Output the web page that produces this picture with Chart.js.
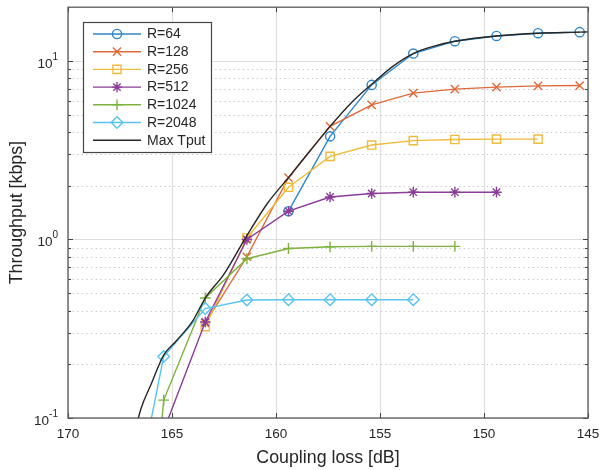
<!DOCTYPE html>
<html>
<head>
<meta charset="utf-8">
<script src="https://cdn.jsdelivr.net/npm/chart.js@4/dist/chart.umd.min.js"></script>
<style>
  html, body { margin: 0; padding: 0; background: #ffffff; }
  canvas { display: block; }
</style>
</head>
<body>
<canvas id="c" width="603" height="470"></canvas>
<script>
// Coupling loss sample points (dB) of the simulated repetition levels
const lossR = [167.4, 165.4, 163.4, 161.4, 159.4, 157.4, 155.4, 153.4, 151.4, 149.4, 147.4, 145.4];

// Throughput (kbps) per repetition level, null where no value was obtained
const tputR64   = [null, null, null, null, 1.44, 3.78, 7.34, 11.0, 12.9, 13.8, 14.3, 14.5];
const tputR128  = [null, null, 0.34, 0.80, 2.22, 4.30, 5.68, 6.60, 6.95, 7.13, 7.25, 7.28];
const tputR256  = [null, null, 0.325, 1.02, 1.96, 2.92, 3.38, 3.58, 3.63, 3.65, 3.65, null];
const tputR512  = [null, 0.085, 0.345, 1.00, 1.44, 1.73, 1.81, 1.84, 1.84, 1.84, null, null];
const tputR1024 = [0.0003, 0.126, 0.47, 0.78, 0.89, 0.91, 0.915, 0.915, 0.915, null, null, null];
const tputR2048 = [0.015, 0.221, 0.41, 0.458, 0.46, 0.46, 0.46, 0.46, null, null, null, null];

// Envelope of the best achievable throughput
const lossMax = [167.0, 166.5, 166.0, 165.4, 164.8, 164.0, 163.4, 162.5, 161.4, 160.4, 159.4, 158.4, 157.4, 156.4, 155.4, 154.4, 153.4, 152.4, 151.4, 149.4, 147.4, 145.4, 145.0];
const tputMax = [0.065, 0.112, 0.155, 0.225, 0.27, 0.35, 0.47, 0.64, 1.05, 1.6, 2.22, 3.1, 4.3, 5.8, 7.4, 9.3, 11.0, 12.1, 12.9, 13.8, 14.3, 14.5, 14.55];

// Axis ticks
const xTicks = [170, 165, 160, 155, 150, 145];
const xTickLabels = ['170', '165', '160', '155', '150', '145'];
const yDecades = [0.1, 1, 10];
const yDecadeExp = ['-1', '0', '1'];
const yMinor = [0.2, 0.3, 0.4, 0.5, 0.6, 0.7, 0.8, 0.9, 2, 3, 4, 5, 6, 7, 8, 9];

const seriesNames = ['R=64', 'R=128', 'R=256', 'R=512', 'R=1024', 'R=2048', 'Max Tput'];

const FONT = '"Liberation Sans", Arial, Helvetica, sans-serif';

function pts(xs, ys) {
  const out = [];
  xs.forEach((x, i) => { if (ys[i] !== null) out.push({ x: x, y: ys[i] }); });
  return out;
}

function series(label, ys, color, style, radius, order) {
  return {
    label: label,
    data: pts(lossR, ys),
    borderColor: color,
    backgroundColor: 'rgba(0,0,0,0)',
    borderWidth: 1.4,
    pointStyle: style,
    pointRadius: ctx => (ctx.raw && ctx.raw.y < 0.1 ? 0 : radius),
    pointBorderColor: color,
    pointBackgroundColor: 'rgba(0,0,0,0)',
    pointBorderWidth: 1.4,
    tension: 0,
    order: order
  };
}

const datasets = [
  series(seriesNames[0], tputR64,   '#2f86c8', 'circle',   4.6, 6),
  series(seriesNames[1], tputR128,  '#de6a3a', 'crossRot', 5.8, 5),
  series(seriesNames[2], tputR256,  '#efbb3c', 'rect',     5.8, 4),
  series(seriesNames[3], tputR512,  '#8a3c98', 'star',     5.2, 3),
  series(seriesNames[4], tputR1024, '#7fb23e', 'cross',    5.4, 2),
  series(seriesNames[5], tputR2048, '#58c3ef', 'rectRot',  5.8, 1),
  {
    label: seriesNames[6],
    data: pts(lossMax, tputMax),
    borderColor: '#262626',
    backgroundColor: 'rgba(0,0,0,0)',
    borderWidth: 1.4,
    pointRadius: 0,
    cubicInterpolationMode: 'monotone',
    order: 0
  }
];

// Grid, box, ticks and axis text in the MATLAB style
const axisDecor = {
  id: 'axisDecor',
  beforeDatasetsDraw(chart) {
    const { ctx, chartArea: a, scales: { x, y } } = chart;
    ctx.save();
    ctx.lineWidth = 1;
    ctx.strokeStyle = '#c4c4c4';
    ctx.setLineDash([1.3, 3.3]);
    yMinor.forEach(v => {
      const py = Math.round(y.getPixelForValue(v)) + 0.5;
      ctx.beginPath(); ctx.moveTo(a.left, py); ctx.lineTo(a.right, py); ctx.stroke();
    });
    ctx.setLineDash([]);
    ctx.strokeStyle = '#dedede';
    ctx.lineWidth = 1.2;
    yDecades.forEach(v => {
      const py = Math.round(y.getPixelForValue(v)) + 0.5;
      ctx.beginPath(); ctx.moveTo(a.left, py); ctx.lineTo(a.right, py); ctx.stroke();
    });
    xTicks.forEach(v => {
      const px = Math.round(x.getPixelForValue(v)) + 0.5;
      ctx.beginPath(); ctx.moveTo(px, a.top); ctx.lineTo(px, a.bottom); ctx.stroke();
    });
    ctx.restore();
  },
  afterDatasetsDraw(chart) {
    const { ctx, chartArea: a, scales: { x, y } } = chart;
    ctx.save();
    // tick marks pointing inward on all four sides
    ctx.strokeStyle = '#404040';
    ctx.lineWidth = 1;
    xTicks.forEach(v => {
      const px = Math.round(x.getPixelForValue(v)) + 0.5;
      ctx.beginPath();
      ctx.moveTo(px, a.bottom); ctx.lineTo(px, a.bottom - 5);
      ctx.moveTo(px, a.top); ctx.lineTo(px, a.top + 5);
      ctx.stroke();
    });
    const yTickMark = (v, len) => {
      const py = Math.round(y.getPixelForValue(v)) + 0.5;
      ctx.beginPath();
      ctx.moveTo(a.left, py); ctx.lineTo(a.left + len, py);
      ctx.moveTo(a.right, py); ctx.lineTo(a.right - len, py);
      ctx.stroke();
    };
    yDecades.forEach(v => yTickMark(v, 5));
    yMinor.forEach(v => yTickMark(v, 3));
    // axes box
    ctx.strokeStyle = '#5a5a5a';
    ctx.lineWidth = 1.3;
    ctx.strokeRect(a.left, a.top, a.right - a.left, a.bottom - a.top);

    // tick labels
    ctx.fillStyle = '#262626';
    ctx.textBaseline = 'middle';
    ctx.textAlign = 'center';
    ctx.font = '13.5px ' + FONT;
    xTicks.forEach((v, i) => {
      ctx.fillText(xTickLabels[i], x.getPixelForValue(v), a.bottom + 16);
    });
    yDecades.forEach((v, i) => {
      const py = y.getPixelForValue(v);
      ctx.font = '10px ' + FONT;
      const ew = ctx.measureText(yDecadeExp[i]).width;
      ctx.textAlign = 'left';
      const right = a.left - 10;
      ctx.fillText(yDecadeExp[i], right - ew, py - 4);
      ctx.font = '13.5px ' + FONT;
      ctx.textAlign = 'right';
      ctx.fillText('10', right - ew, py + 3);
    });

    // axis titles
    ctx.font = '17.8px ' + FONT;
    ctx.textAlign = 'center';
    ctx.fillText('Coupling loss [dB]', (a.left + a.right) / 2, a.bottom + 40);
    ctx.save();
    ctx.translate(17, (a.top + a.bottom) / 2);
    ctx.rotate(-Math.PI / 2);
    ctx.fillText('Throughput [kbps]', 0, 0);
    ctx.restore();
    ctx.restore();
  },
  afterDraw(chart) {
    // legend box in the upper-left corner of the axes
    const { ctx } = chart;
    const bx = 83.5, by = 22.5, bw = 128, bh = 130;
    ctx.save();
    ctx.fillStyle = '#ffffff';
    ctx.fillRect(bx, by, bw, bh);
    ctx.strokeStyle = '#454545';
    ctx.lineWidth = 1.2;
    ctx.strokeRect(bx, by, bw, bh);
    chart.data.datasets.forEach((ds, i) => {
      const ry = 34 + i * 17.7;
      ctx.strokeStyle = ds.borderColor;
      ctx.lineWidth = ds.borderWidth;
      ctx.beginPath(); ctx.moveTo(93, ry); ctx.lineTo(141, ry); ctx.stroke();
      if (ds.pointStyle) {
        ctx.fillStyle = 'rgba(0,0,0,0)';
        ctx.lineWidth = ds.pointBorderWidth;
        const meta = chart.getDatasetMeta(i);
        const r = meta.data[meta.data.length - 1].options.radius;
        Chart.helpers.drawPoint(ctx, { pointStyle: ds.pointStyle, radius: r, rotation: 0, borderWidth: ds.pointBorderWidth }, 117, ry);
      }
      ctx.fillStyle = '#262626';
      ctx.font = '14px ' + FONT;
      ctx.textAlign = 'left';
      ctx.textBaseline = 'middle';
      ctx.fillText(ds.label, 147, ry + 0.5);
    });
    ctx.restore();
  }
};

new Chart(document.getElementById('c'), {
  type: 'line',
  data: { datasets: datasets },
  options: {
    responsive: false,
    animation: false,
    devicePixelRatio: 1,
    layout: { padding: { left: 68, top: 7, right: 15, bottom: 52 } },
    scales: {
      x: { type: 'linear', reverse: true, min: 145, max: 170, display: false },
      y: { type: 'logarithmic', min: 0.1, max: 20, display: false }
    },
    plugins: { legend: { display: false }, tooltip: { enabled: false } }
  },
  plugins: [axisDecor]
});
</script>
</body>
</html>
